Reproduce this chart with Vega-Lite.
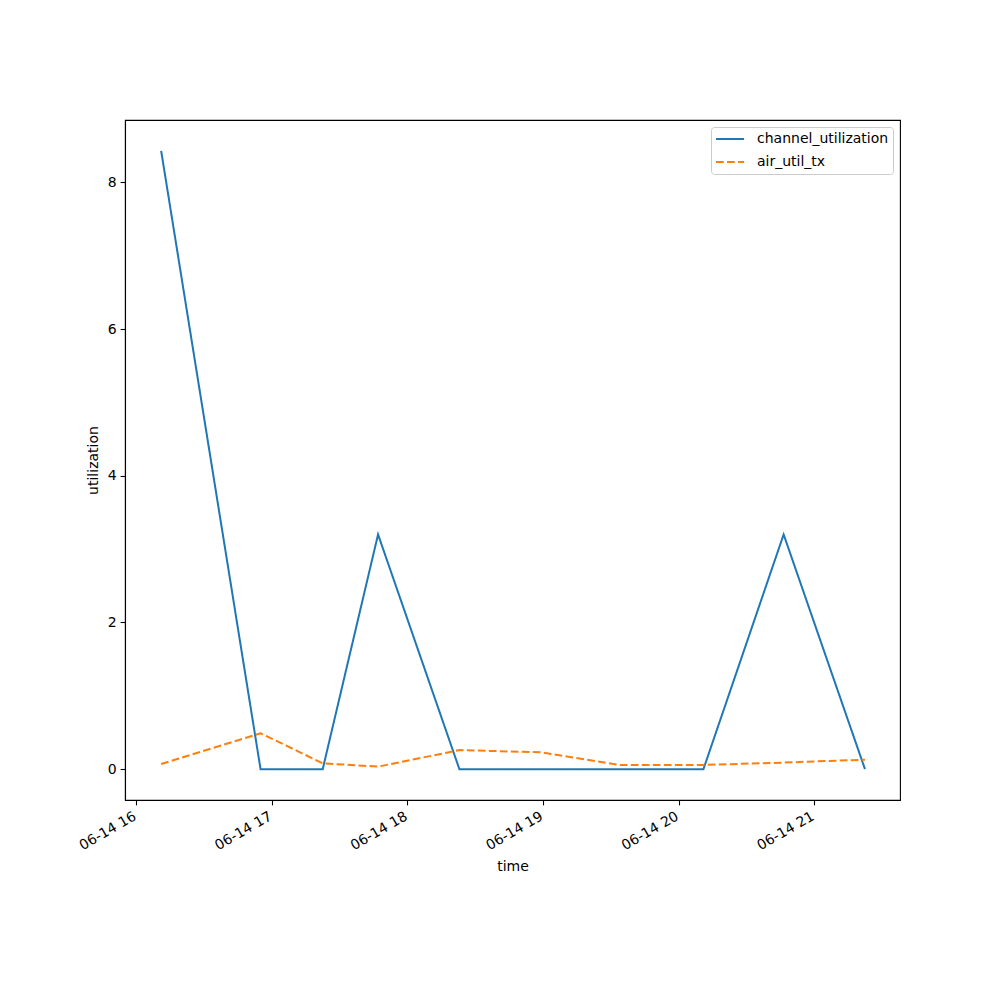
{
  "$schema": "https://vega.github.io/schema/vega-lite/v6.json",
  "width": 775,
  "height": 680,
  "autosize": {"type": "none"},
  "padding": {"left": 125, "top": 120, "right": 100, "bottom": 200},
  "background": "white",
  "config": {
    "font": "DejaVu Sans",
    "view": {"stroke": "black", "strokeWidth": 1.1},
    "axis": {
      "grid": false,
      "domainColor": "black",
      "domainWidth": 1.1,
      "tickColor": "black",
      "tickWidth": 1.1,
      "tickSize": 4.9,
      "labelPadding": 4,
      "labelFontSize": 14,
      "labelColor": "black",
      "titleFontSize": 14,
      "titleFontWeight": "normal",
      "titleColor": "black"
    }
  },
  "data": {
    "values": [
      {"time": "2024-06-14T16:11:00", "series": "channel_utilization", "value": 8.43},
      {"time": "2024-06-14T16:55:00", "series": "channel_utilization", "value": 0},
      {"time": "2024-06-14T17:22:30", "series": "channel_utilization", "value": 0},
      {"time": "2024-06-14T17:47:00", "series": "channel_utilization", "value": 3.2},
      {"time": "2024-06-14T18:23:00", "series": "channel_utilization", "value": 0},
      {"time": "2024-06-14T18:59:00", "series": "channel_utilization", "value": 0},
      {"time": "2024-06-14T19:34:00", "series": "channel_utilization", "value": 0},
      {"time": "2024-06-14T20:11:00", "series": "channel_utilization", "value": 0},
      {"time": "2024-06-14T20:46:30", "series": "channel_utilization", "value": 3.2},
      {"time": "2024-06-14T21:22:30", "series": "channel_utilization", "value": 0},
      {"time": "2024-06-14T16:11:00", "series": "air_util_tx", "value": 0.07},
      {"time": "2024-06-14T16:55:00", "series": "air_util_tx", "value": 0.49},
      {"time": "2024-06-14T17:22:30", "series": "air_util_tx", "value": 0.08},
      {"time": "2024-06-14T17:47:00", "series": "air_util_tx", "value": 0.035},
      {"time": "2024-06-14T18:23:00", "series": "air_util_tx", "value": 0.26},
      {"time": "2024-06-14T18:59:00", "series": "air_util_tx", "value": 0.23},
      {"time": "2024-06-14T19:34:00", "series": "air_util_tx", "value": 0.058},
      {"time": "2024-06-14T20:11:00", "series": "air_util_tx", "value": 0.058},
      {"time": "2024-06-14T20:46:30", "series": "air_util_tx", "value": 0.09},
      {"time": "2024-06-14T21:22:30", "series": "air_util_tx", "value": 0.13}
    ]
  },
  "mark": {"type": "line", "strokeWidth": 2},
  "encoding": {
    "x": {
      "field": "time",
      "type": "temporal",
      "title": "time",
      "scale": {
        "domain": [
          {"year": 2024, "month": 6, "date": 14, "hours": 15, "minutes": 55},
          {"year": 2024, "month": 6, "date": 14, "hours": 21, "minutes": 38}
        ],
        "nice": false
      },
      "axis": {
        "values": [
          {"year": 2024, "month": 6, "date": 14, "hours": 16},
          {"year": 2024, "month": 6, "date": 14, "hours": 17},
          {"year": 2024, "month": 6, "date": 14, "hours": 18},
          {"year": 2024, "month": 6, "date": 14, "hours": 19},
          {"year": 2024, "month": 6, "date": 14, "hours": 20},
          {"year": 2024, "month": 6, "date": 14, "hours": 21}
        ],
        "format": "%m-%d %H",
        "labelAngle": -30,
        "labelAlign": "right",
        "labelBaseline": "top",
        "labelOffset": -5,
        "labelFlush": false,
        "labelOverlap": false,
        "titlePadding": 7
      }
    },
    "y": {
      "field": "value",
      "type": "quantitative",
      "title": "utilization",
      "scale": {"domain": [-0.42, 8.85], "nice": false, "zero": false},
      "axis": {"values": [0, 2, 4, 6, 8], "titlePadding": 7}
    },
    "color": {
      "field": "series",
      "type": "nominal",
      "sort": ["channel_utilization", "air_util_tx"],
      "scale": {"domain": ["channel_utilization", "air_util_tx"], "range": ["#1f77b4", "#ff7f0e"]},
      "legend": {
        "title": null,
        "orient": "top-right",
        "offset": 7,
        "symbolType": "stroke",
        "symbolSize": 784,
        "symbolStrokeWidth": 2,
        "labelFontSize": 14,
        "labelColor": "black",
        "labelOffset": 12,
        "padding": 4,
        "clipHeight": 16,
        "rowPadding": 7,
        "fillColor": "white",
        "strokeColor": "#cccccc",
        "cornerRadius": 3
      }
    },
    "strokeDash": {
      "field": "series",
      "type": "nominal",
      "sort": ["channel_utilization", "air_util_tx"],
      "scale": {"domain": ["channel_utilization", "air_util_tx"], "range": [[1, 0], [7.7, 3.3]]},
      "legend": null
    }
  }
}
